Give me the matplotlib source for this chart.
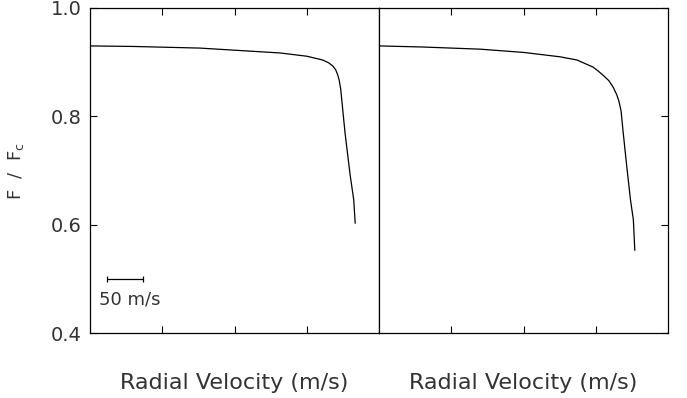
import numpy as np
import matplotlib.pyplot as plt

# line profiles for the two panels (velocity in m/s, normalised flux)
v_left = [0, 60, 152, 263, 300, 322, 330, 336, 340, 343, 345, 347, 353, 360, 365, 367]
f_left = [0.930, 0.929, 0.926, 0.917, 0.911, 0.904, 0.899, 0.893, 0.886, 0.876, 0.866, 0.850, 0.769, 0.692, 0.646, 0.603]

v_right = [1, 60, 140, 200, 250, 274, 296, 303, 310, 318, 324, 329, 332, 335, 338, 343, 348, 352, 354]
f_right = [0.930, 0.928, 0.924, 0.918, 0.910, 0.904, 0.891, 0.884, 0.876, 0.866, 0.854, 0.840, 0.828, 0.810, 0.769, 0.706, 0.646, 0.609, 0.553]

yticks = [0.4, 0.6, 0.8, 1.0]
xticks = [100, 200, 300]
bar_len = 50

plt.rcParams['font.family'] = 'DejaVu Sans'
fig = plt.figure(figsize=(6.87, 3.98), dpi=100)
ax1 = fig.add_axes([0.131, 0.1633, 0.4207, 0.8166])
ax2 = fig.add_axes([0.5517, 0.1633, 0.4207, 0.8166])

for ax in (ax1, ax2):
    ax.set_xlim(0, 400)
    ax.set_ylim(0.4, 1.0)
    ax.set_xticks(xticks)
    ax.set_xticklabels([])
    ax.tick_params(direction='in', length=5, width=0.8, top=True, colors='black')
    for s in ax.spines.values():
        s.set_linewidth(0.9)
    ax.set_xlabel('Radial Velocity (m/s)', fontsize=16, labelpad=25, color='#333333')

ax1.plot(v_left, f_left, color='black', lw=0.9)
ax2.plot(v_right, f_right, color='black', lw=0.9)

ax1.set_yticks(yticks)
ax1.set_yticklabels(['%.1f' % t for t in yticks], fontsize=14, color='#333333')
ax1.tick_params(axis='y', left=True, right=False, pad=6)
ax1.set_ylabel('F  /  F$_{\\rm c}$', fontsize=13, labelpad=18, color='#333333')

ax2.set_yticks(yticks)
ax2.set_yticklabels([])
ax2.tick_params(axis='y', left=False, right=True)

# 50 m/s scale bar
ax1.errorbar([23 + bar_len / 2], [0.5], xerr=[bar_len / 2], fmt='none',
             ecolor='black', elinewidth=0.9, capsize=2.5, capthick=0.9)
ax1.text(13, 0.461, '50 m/s', fontsize=13, va='center', ha='left', color='#333333')

plt.savefig('out.png', dpi=100)
